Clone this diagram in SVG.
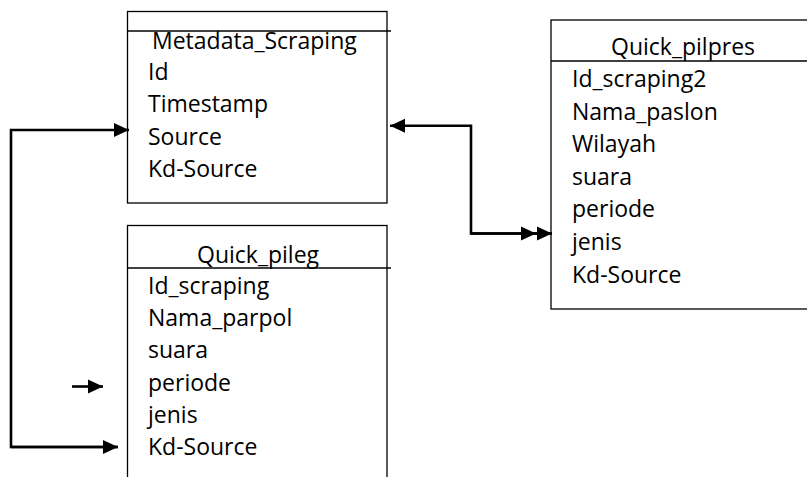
<svg xmlns="http://www.w3.org/2000/svg" width="807" height="477" viewBox="0 0 807 477">
<style>
.box{fill:#fff;stroke:#000;stroke-width:1.3}
.sep{stroke:#000;stroke-width:1.3}
.t{font-family:"Open Sans","Liberation Sans",sans-serif;font-size:23px;fill:#000}
.c{fill:none;stroke:#000;stroke-width:2.6}
</style>
<defs>
<marker id="ah" markerUnits="userSpaceOnUse" markerWidth="16" markerHeight="16" refX="15" refY="8" orient="auto">
<path d="M0,1 L15,8 L0,15 z" fill="#000"/>
</marker>
<marker id="ah2" markerUnits="userSpaceOnUse" markerWidth="32" markerHeight="16" refX="31" refY="8" orient="auto">
<path d="M0,1 L15,8 L0,15 z M16,1 L31,8 L16,15 z" fill="#000"/>
</marker>
</defs>
<g id="metadata_scraping">
<rect class="box" x="127.5" y="11.5" width="259.5" height="191.5"/>
<line class="sep" x1="127.5" y1="31" x2="391" y2="31"/>
<text class="t" x="152" y="49">Metadata_Scraping</text>
<text class="t" x="148" y="80">Id</text>
<text class="t" x="148" y="112">Timestamp</text>
<text class="t" x="148" y="145">Source</text>
<text class="t" x="148" y="177">Kd-Source</text>
</g>
<g id="quick_pilpres">
<rect class="box" x="551" y="20" width="270" height="289"/>
<line class="sep" x1="551" y1="61" x2="807" y2="61"/>
<text class="t" x="611" y="55">Quick_pilpres</text>
<text class="t" x="572" y="87">Id_scraping2</text>
<text class="t" x="572" y="120">Nama_paslon</text>
<text class="t" x="572" y="152">Wilayah</text>
<text class="t" x="572" y="185">suara</text>
<text class="t" x="572" y="217">periode</text>
<text class="t" x="572" y="250">jenis</text>
<text class="t" x="572" y="283">Kd-Source</text>
</g>
<g id="quick_pileg">
<rect class="box" x="127.5" y="225.5" width="259.5" height="270"/>
<line class="sep" x1="127.5" y1="268" x2="391" y2="268"/>
<text class="t" x="197" y="263">Quick_pileg</text>
<text class="t" x="148" y="294">Id_scraping</text>
<text class="t" x="148" y="326">Nama_parpol</text>
<text class="t" x="148" y="358">suara</text>
<text class="t" x="148" y="391">periode</text>
<text class="t" x="148" y="423">jenis</text>
<text class="t" x="148" y="455">Kd-Source</text>
</g>
<g id="connectors">
<path class="c" d="M118,447 L11,447 L11,130 L129,130" marker-end="url(#ah)"/>
<path class="c" d="M11,447 L118,447" marker-end="url(#ah)"/>
<path class="c" d="M552,233.5 L471,233.5 L471,125.7 L390,125.7" marker-end="url(#ah)"/>
<path class="c" d="M471,233.5 L552,233.5" marker-end="url(#ah2)"/>
<path class="c" d="M72,386.5 L103,386.5" marker-end="url(#ah)"/>
</g>
</svg>
